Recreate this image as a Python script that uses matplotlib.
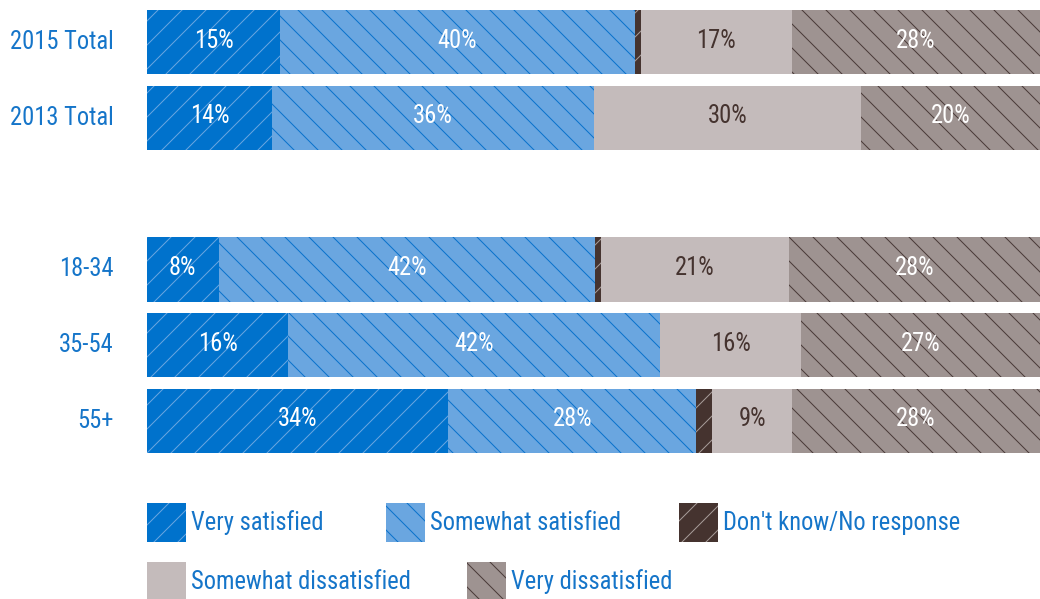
import matplotlib.pyplot as plt
from matplotlib import font_manager
from matplotlib.patches import Rectangle
import numpy as np

# pick a narrow font if there is one
names = {f.name for f in font_manager.fontManager.ttflist}
font, fsize = 'Roboto', 22
for cand in ['Roboto Condensed', 'Liberation Sans Narrow', 'Open Sans Condensed',
             'Noto Sans Condensed', 'DejaVu Sans Condensed']:
    if cand in names:
        font, fsize = cand, 24.5
        break
plt.rcParams['font.family'] = [font, 'DejaVu Sans']
plt.rcParams['hatch.linewidth'] = 1.0

groups = ['2015 Total', '2013 Total', '18-34', '35-54', '55+']
ypos = [0, 1, 3, 4, 5]
categories = ['Very satisfied', 'Somewhat satisfied', "Don't know/No response",
              'Somewhat dissatisfied', 'Very dissatisfied']
very_sat = [15, 14, 8, 16, 34]
some_sat = [40, 36, 42, 42, 28]
dont_know = [0.7, 0, 0.7, 0, 1.8]
some_dis = [17, 30, 21, 16, 9]
very_dis = [28, 20, 28, 27, 28]
show_label = [True, True, False, True, True]

faces = ['#0072CC', '#6AA6E0', '#45332F', '#C4BBBB', '#9E9391']
hatch_cols = ['#6AA6E0', '#0A72CC', '#A89C99', '#C4BBBB', '#4A3A38']
hatches = ['/', '\\', '/', '', '\\']
text_cols = ['white', 'white', 'white', '#45332F', 'white']
blue = '#1575C9'

W, H = 1040, 599
fig = plt.figure(figsize=(W / 72, H / 72), dpi=72)
ax = fig.add_axes([147 / W, 1 - 453 / H, (W - 147) / W, (453 - 10) / H])

raw = [very_sat, some_sat, dont_know, some_dis, very_dis]
data = np.array(raw, dtype=float)
data = data / data.sum(axis=0) * 100
left = np.zeros(len(groups))
for i in range(len(categories)):
    ax.barh(ypos, data[i], left=left, height=0.85, color=faces[i],
            edgecolor=hatch_cols[i], linewidth=0, hatch=hatches[i])
    if show_label[i]:
        for y, l, w, v in zip(ypos, left, data[i], raw[i]):
            ax.text(l + w / 2, y - 0.02, f'{v:.0f}%', ha='center', va='center',
                    fontsize=fsize, color=text_cols[i])
    left += data[i]

ax.set_xlim(0, 100)
ax.set_ylim(5.425, -0.425)
ax.set_yticks(ypos)
ax.set_yticklabels(groups, fontsize=fsize, color=blue, va='center')
ax.tick_params(axis='y', length=0, pad=33)
ax.set_xticks([])
for s in ax.spines.values():
    s.set_visible(False)

# legend drawn by hand, two rows
legend_pos = [(147, 503), (386, 503), (679, 503), (147, 562), (467, 562)]
for i, (x, y) in enumerate(legend_pos):
    fig.add_artist(Rectangle((x / W, 1 - (y + 39) / H), 39 / W, 39 / H,
                             transform=fig.transFigure, facecolor=faces[i],
                             edgecolor=hatch_cols[i], linewidth=0,
                             hatch=hatches[i]))
    fig.text((x + 44) / W, 1 - (y + 20) / H, categories[i], fontsize=fsize,
             color=blue, va='center', ha='left')

fig.savefig('out.png', dpi=72)
